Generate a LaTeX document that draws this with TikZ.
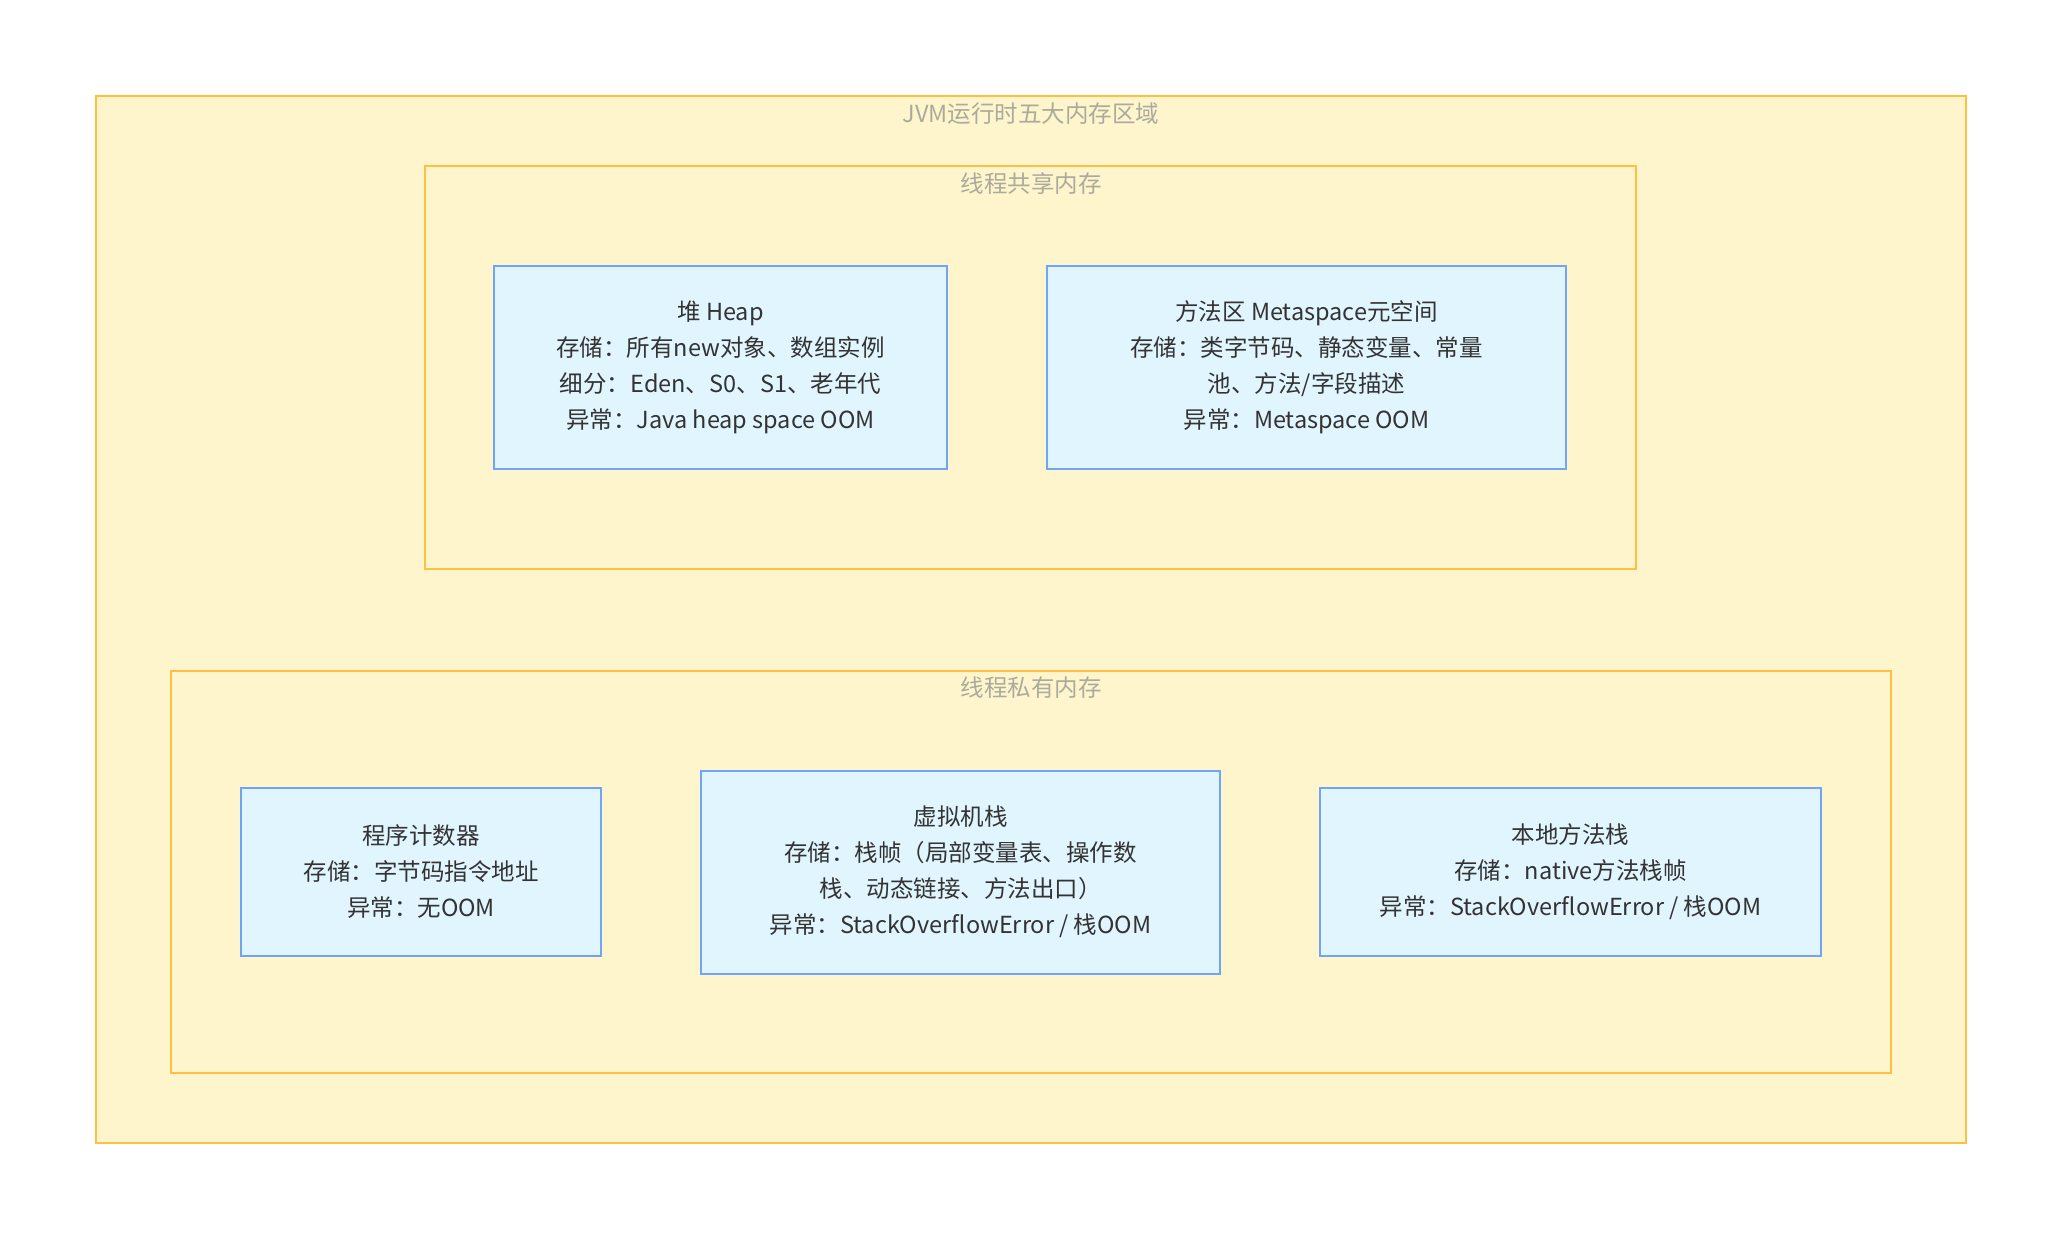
\documentclass[tikz,border=0pt]{standalone}
\usepackage{fontspec}
\setmainfont{Noto Sans CJK SC}
\usepackage{tikz}
\usetikzlibrary{positioning}
\definecolor{areafill}{HTML}{FFF5CC}
\definecolor{arealine}{HTML}{FFBF40}
\definecolor{boxfill}{HTML}{E1F5FE}
\definecolor{boxline}{HTML}{6FA4F8}
\definecolor{titlegray}{HTML}{ABAB9C}
\definecolor{textdark}{HTML}{333333}

\begin{document}
\begin{tikzpicture}[x=1pt,y=-1pt,
  area/.style={draw=arealine,fill=areafill,line width=1.6pt,inner sep=0pt},
  membox/.style={draw=boxline,fill=boxfill,line width=2pt,inner sep=0pt,
    align=center,text=textdark,font=\fontsize{23.5}{36}\selectfont},
  areatitle/.style={text=titlegray,font=\fontsize{23.5}{28}\selectfont,inner sep=0pt}]
  \useasboundingbox (0,0) rectangle (2062,1240);

  % outer area and its two groups
  \node[area,minimum width=1870pt,minimum height=1047pt] (jvm) at (1031,619.5) {};
  \node[areatitle] (jvmtitle) at (1031,114) {JVM运行时五大内存区域};

  \node[area,minimum width=1211pt,minimum height=403pt] (shared) at (1030.5,367.5) {};
  \node[areatitle] (sharedtitle) at (1031,184) {线程共享内存};

  \node[area,minimum width=1720pt,minimum height=402pt] (private) at (1031,872) {};
  \node[areatitle] (privatetitle) at (1031,688) {线程私有内存};

  % shared memory
  \node[membox,minimum width=453pt,minimum height=203pt] (heap) at (720.5,367.5)
    {堆 Heap\\存储：所有new对象、数组实例\\细分：Eden、S0、S1、老年代\\异常：Java heap space OOM};
  \node[membox,minimum width=519pt,minimum height=203pt] (meta) at (1306.5,367.5)
    {方法区 Metaspace元空间\\存储：类字节码、静态变量、常量\\池、方法/字段描述\\异常：Metaspace OOM};

  % private memory
  \node[membox,minimum width=360pt,minimum height=168pt] (pc) at (421,872)
    {程序计数器\\存储：字节码指令地址\\异常：无OOM};
  \node[membox,minimum width=519pt,minimum height=203pt] (vmstack) at (960.5,872)
    {虚拟机栈\\存储：栈帧（局部变量表、操作数\\栈、动态链接、方法出口）\\异常：StackOverflowError / 栈OOM};
  \node[membox,minimum width=501pt,minimum height=168pt] (native) at (1570.5,872)
    {本地方法栈\\存储：native方法栈帧\\异常：StackOverflowError / 栈OOM};
\end{tikzpicture}
\end{document}
